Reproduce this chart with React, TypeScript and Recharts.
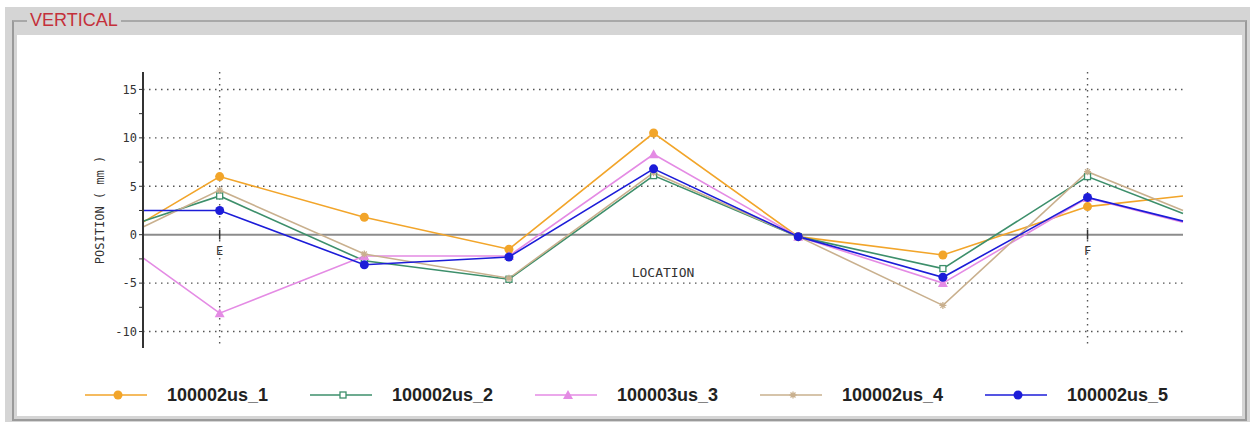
import { LineChart, Line, XAxis, YAxis, CartesianGrid, ReferenceLine, ReferenceDot, Legend } from 'recharts';

// positions along the alignment; E and F are the two marked stations
const locations = [-0.53, 0, 1, 2, 3, 4, 5, 6, 6.66];
const stationLocs = [0, 6];
const stationNames = ['E', 'F'];

const us1 = [1.3, 6.0, 1.8, -1.5, 10.5, -0.2, -2.1, 2.9, 4.0];
const us2 = [1.4, 4.0, -2.7, -4.6, 6.1, -0.2, -3.5, 6.0, 2.2];
const us3 = [-2.4, -8.1, -2.2, -2.2, 8.3, -0.2, -5.0, 3.8, 1.3];
const us4 = [0.8, 4.6, -2.0, -4.5, 6.4, -0.2, -7.3, 6.5, 2.5];
const us5 = [2.5, 2.5, -3.1, -2.3, 6.8, -0.2, -4.4, 3.85, 1.4];

const seriesNames = ['100002us_1', '100002us_2', '100003us_3', '100002us_4', '100002us_5'];
const yTicks = [-10, -7.5, -5, -2.5, 0, 2.5, 5, 7.5, 10, 12.5, 15];
const gridValues = [-10, -5, 5, 10, 15];

const data = locations.map((loc, i) => ({
  loc,
  s1: us1[i],
  s2: us2[i],
  s3: us3[i],
  s4: us4[i],
  s5: us5[i],
}));

const series = [
  { key: 's1', name: seriesNames[0], color: '#f2a52a', shape: 'circle' },
  { key: 's2', name: seriesNames[1], color: '#3d8f6b', shape: 'square' },
  { key: 's3', name: seriesNames[2], color: '#e48be4', shape: 'triangle' },
  { key: 's4', name: seriesNames[3], color: '#c9b08e', shape: 'star' },
  { key: 's5', name: seriesNames[4], color: '#1c1cd8', shape: 'circle' },
];

const axisFont = '"DejaVu Sans Mono", monospace';

const Marker = ({ shape, x, y, color }: { shape: string; x: number; y: number; color: string }) => {
  if (shape === 'square')
    return <rect x={x - 3} y={y - 3} width={6} height={6} fill="#fff" stroke={color} strokeWidth={1.3} />;
  if (shape === 'triangle')
    return <path d={`M${x},${y - 5}L${x + 5},${y + 4}L${x - 5},${y + 4}Z`} fill={color} />;
  if (shape === 'star')
    return (
      <path
        d={`M${x - 3.5},${y}H${x + 3.5}M${x},${y - 3.5}V${y + 3.5}M${x - 2.5},${y - 2.5}L${x + 2.5},${y + 2.5}M${x - 2.5},${y + 2.5}L${x + 2.5},${y - 2.5}`}
        stroke={color}
        strokeWidth={1.3}
      />
    );
  return <circle cx={x} cy={y} r={4.5} fill={color} />;
};

// no markers on the two edge points
const makeDot = (shape: string, color: string) => (props: any) => {
  const { cx, cy, index } = props;
  if (index === 0 || index === locations.length - 1 || cx == null || cy == null) return <g key={`d-${index}`} />;
  return (
    <g key={`d-${index}`}>
      <Marker shape={shape} x={cx} y={cy} color={color} />
    </g>
  );
};

const renderLegend = () => (
  <div style={{ display: 'flex', alignItems: 'center', height: 40, paddingLeft: 68 }}>
    {series.map((s) => (
      <div key={s.key} style={{ display: 'flex', alignItems: 'center', width: 225 }}>
        <svg width={62} height={12}>
          <line x1={0} y1={6} x2={62} y2={6} stroke={s.color} strokeWidth={1.6} />
          <Marker shape={s.shape} x={33} y={6} color={s.color} />
        </svg>
        <span style={{ marginLeft: 20, font: 'bold 18px "Liberation Sans", Arial, sans-serif', color: '#222' }}>
          {s.name}
        </span>
      </div>
    ))}
  </div>
);

const yLabel = (props: any) => {
  const { x, y, height } = props.viewBox;
  const cx = x + 83;
  const cy = y + height / 2;
  return (
    <text
      x={cx}
      y={cy}
      transform={`rotate(-90, ${cx}, ${cy})`}
      textAnchor="middle"
      dominantBaseline="central"
      fontFamily={axisFont}
      fontSize={12}
      fill="#333"
    >
      POSITION ( mm )
    </text>
  );
};

const App = () => {
  const midLoc = (locations[0] + locations[locations.length - 1]) / 2;
  return (
    <div style={{ position: 'relative', width: 1250, height: 422, background: '#fff', overflow: 'hidden' }}>
      <style>{'body{margin:0}'}</style>
      <div style={{ position: 'absolute', left: 5, top: 7, width: 1245, height: 415, background: '#d5d5d5' }} />
      <div
        style={{
          position: 'absolute',
          left: 12,
          top: 20,
          width: 1231,
          height: 397,
          borderTop: '2px solid #a8a8a8',
          borderLeft: '2px solid #9a9a9a',
          borderRight: '2px solid #9a9a9a',
          borderBottom: '2px solid #9a9a9a',
        }}
      />
      <div
        style={{
          position: 'absolute',
          left: 27,
          top: 9,
          padding: '0 3px',
          background: '#d5d5d5',
          color: '#c4303a',
          font: '18px "Liberation Sans", Arial, sans-serif',
          lineHeight: '22px',
        }}
      >
        VERTICAL
      </div>
      <div style={{ position: 'absolute', left: 17, top: 35, width: 1225, height: 381, background: '#fff' }}>
        <LineChart width={1225} height={381} data={data} margin={{ top: 37, right: 59, left: 0, bottom: 28 }}>
          <CartesianGrid
            horizontalValues={gridValues}
            verticalValues={stationLocs}
            stroke="#555"
            strokeWidth={1.4}
            strokeDasharray="1.5 4.5"
          />
          <XAxis
            dataKey="loc"
            type="number"
            domain={[locations[0], locations[locations.length - 1]]}
            hide
          />
          <YAxis
            type="number"
            width={126}
            domain={[-11.7, 16.8]}
            ticks={yTicks}
            interval={0}
            allowDataOverflow
            tickFormatter={(v: number) => (v % 5 === 0 ? String(v) : '')}
            axisLine={{ stroke: '#333', strokeWidth: 2 }}
            tickLine={{ stroke: '#333' }}
            tickSize={4}
            tick={{ fill: '#333', fontSize: 12, fontFamily: axisFont }}
            label={yLabel}
          />
          <ReferenceLine y={0} stroke="#8c8c8c" strokeWidth={2} />
          {stationLocs.map((loc, i) => (
            <ReferenceLine
              key={`tick-${i}`}
              segment={[{ x: loc, y: -0.5 }, { x: loc, y: 0.5 }]}
              stroke="#333"
              strokeWidth={1.5}
            />
          ))}
          {stationLocs.map((loc, i) => (
            <ReferenceDot
              key={`st-${i}`}
              x={loc}
              y={0}
              r={0}
              fill="none"
              stroke="none"
              label={{ value: stationNames[i], position: 'bottom', offset: 12, fill: '#333', fontSize: 12, fontFamily: axisFont }}
            />
          ))}
          <ReferenceDot
            x={midLoc}
            y={0}
            r={0}
            fill="none"
            stroke="none"
            label={{ value: 'LOCATION', position: 'bottom', offset: 33, fill: '#333', fontSize: 13, fontFamily: axisFont }}
          />
          {series.map((s) => (
            <Line
              key={s.key}
              dataKey={s.key}
              name={s.name}
              type="linear"
              stroke={s.color}
              strokeWidth={1.6}
              dot={makeDot(s.shape, s.color)}
              activeDot={false}
              isAnimationActive={false}
            />
          ))}
          <Legend
            content={renderLegend}
            verticalAlign="bottom"
            wrapperStyle={{ left: 0, top: 340, width: 1225, height: 40 }}
          />
        </LineChart>
      </div>
    </div>
  );
};

export default App;
